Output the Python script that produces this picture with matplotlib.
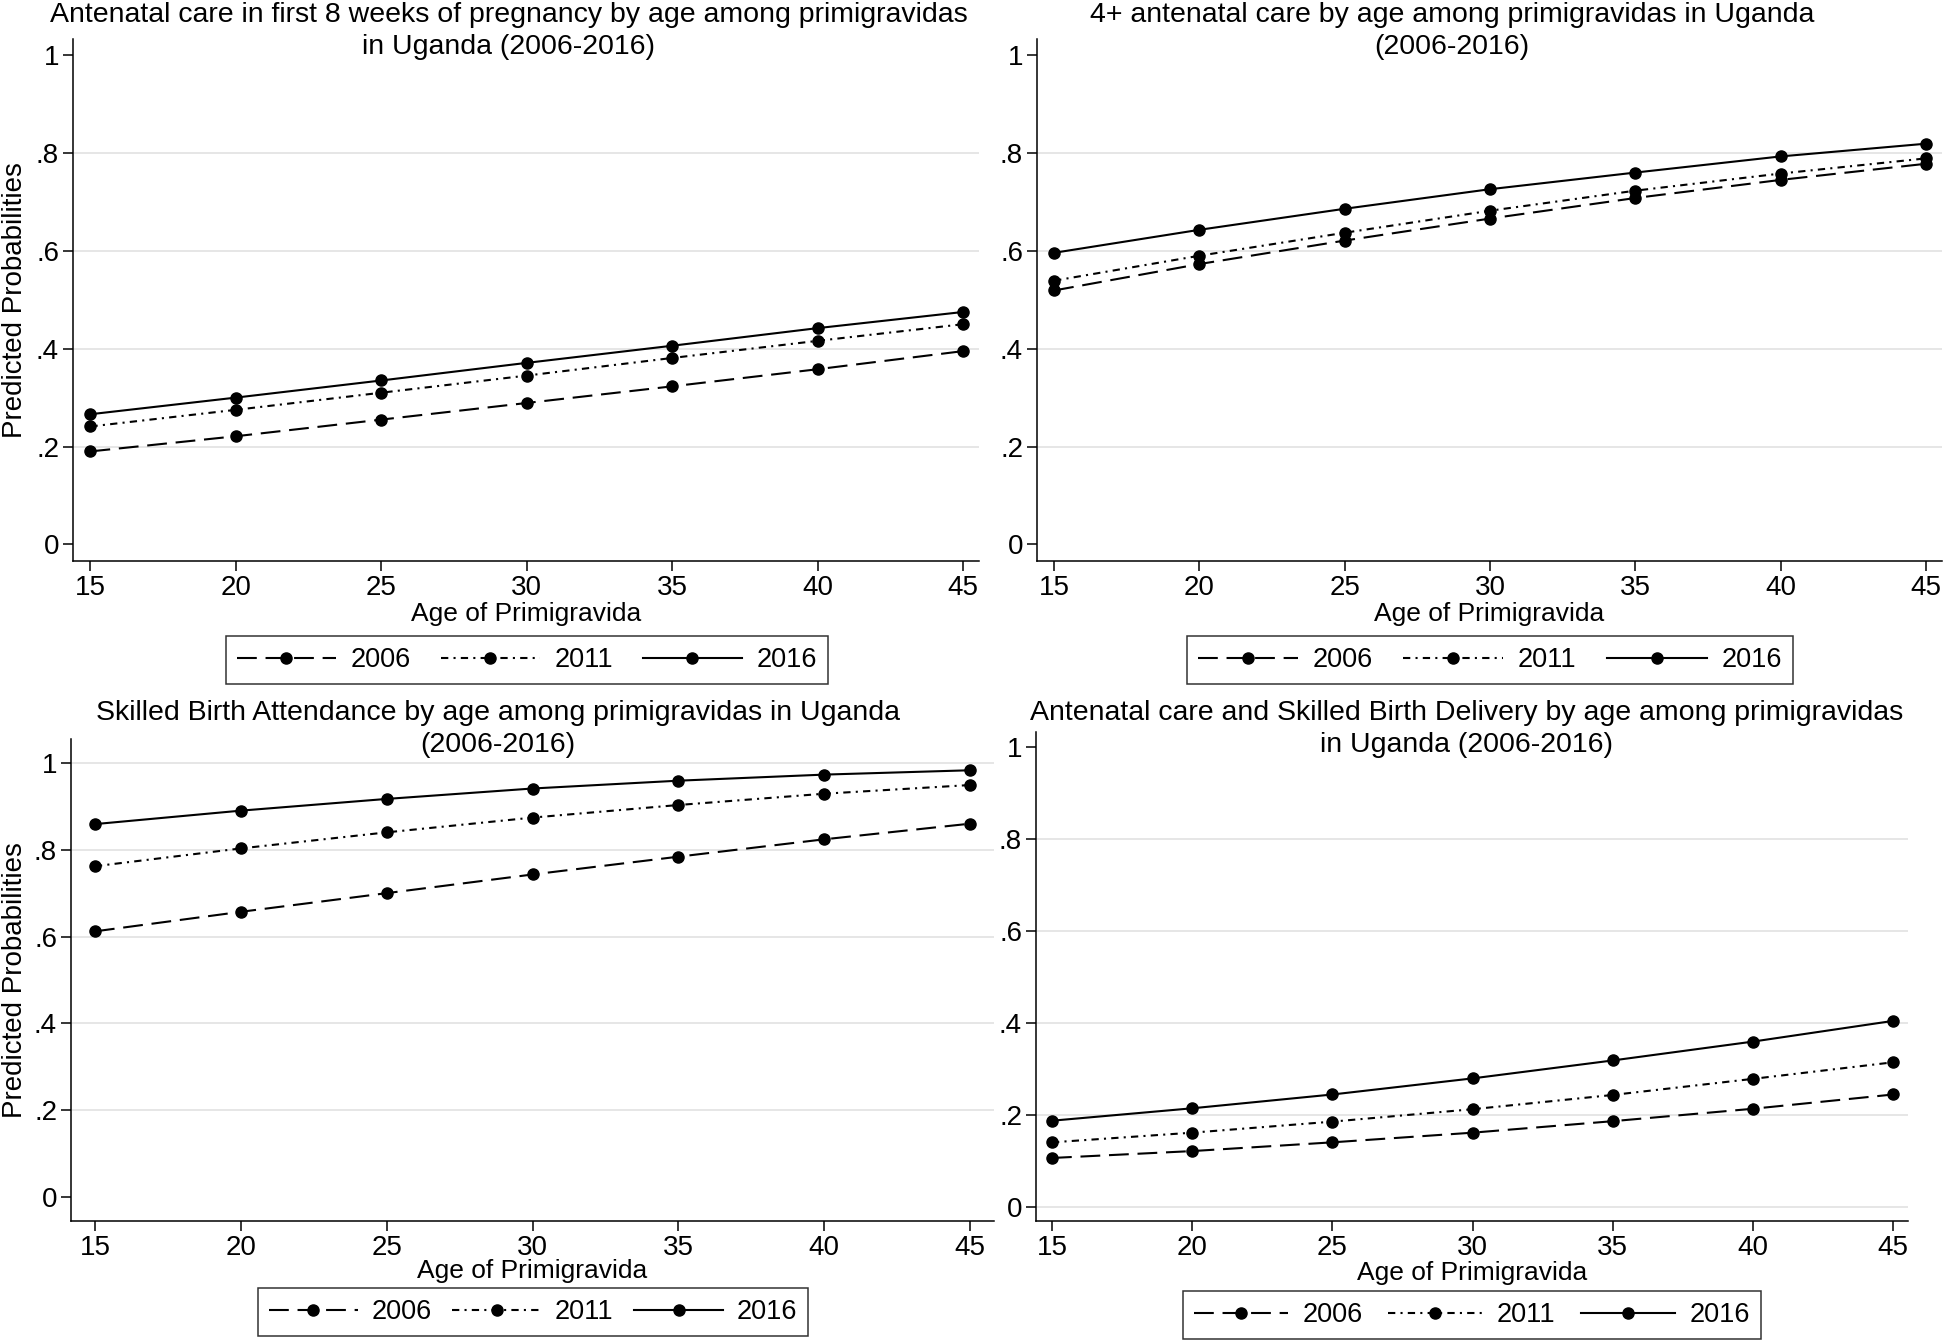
import matplotlib
matplotlib.use("Agg")
import matplotlib.pyplot as plt

plt.rcParams['font.family'] = ['Liberation Sans', 'DejaVu Sans']

W, H = 1946, 1342

# ---- data ----
ages = [15, 20, 25, 30, 35, 40, 45]
years = ["2006", "2011", "2016"]

# antenatal care in first 8 weeks
anc8_2006 = [0.190, 0.221, 0.255, 0.289, 0.323, 0.358, 0.395]
anc8_2011 = [0.241, 0.275, 0.310, 0.345, 0.381, 0.416, 0.450]
anc8_2016 = [0.266, 0.300, 0.335, 0.371, 0.406, 0.442, 0.475]

# 4+ antenatal visits
anc4_2006 = [0.519, 0.573, 0.621, 0.666, 0.708, 0.745, 0.778]
anc4_2011 = [0.539, 0.590, 0.637, 0.682, 0.723, 0.758, 0.789]
anc4_2016 = [0.596, 0.643, 0.686, 0.726, 0.760, 0.793, 0.819]

# skilled birth attendance
sba_2006 = [0.612, 0.657, 0.700, 0.743, 0.784, 0.824, 0.860]
sba_2011 = [0.762, 0.803, 0.840, 0.874, 0.903, 0.929, 0.949]
sba_2016 = [0.859, 0.890, 0.917, 0.941, 0.959, 0.973, 0.983]

# antenatal care + skilled delivery
both_2006 = [0.107, 0.122, 0.141, 0.162, 0.187, 0.214, 0.245]
both_2011 = [0.141, 0.162, 0.186, 0.213, 0.244, 0.279, 0.315]
both_2016 = [0.188, 0.215, 0.245, 0.280, 0.319, 0.360, 0.405]

titles = [
    "Antenatal care in first 8 weeks of pregnancy by age among primigravidas\nin Uganda (2006-2016)",
    "4+ antenatal care by age among primigravidas in Uganda\n(2006-2016)",
    "Skilled Birth Attendance by age among primigravidas in Uganda\n(2006-2016)",
    "Antenatal care and Skilled Birth Delivery by age among primigravidas\nin Uganda (2006-2016)",
]
series = [
    [anc8_2006, anc8_2011, anc8_2016],
    [anc4_2006, anc4_2011, anc4_2016],
    [sba_2006, sba_2011, sba_2016],
    [both_2006, both_2011, both_2016],
]
yticks = [0, 0.2, 0.4, 0.6, 0.8, 1.0]
ytick_labels = ["0", ".2", ".4", ".6", ".8", "1"]

# ---- layout (pixel boxes: left, top, right, bottom) ----
boxes = [(73, 39, 979, 561), (1037, 39, 1942, 561),
         (71, 739, 994, 1221), (1036, 732, 1908, 1221)]
xlims = [(14.40, 45.55), (14.41, 45.55), (14.18, 45.82), (14.43, 45.53)]
ylims = [(-0.034, 1.033), (-0.034, 1.033), (-0.055, 1.055), (-0.030, 1.033)]
grids = [[0.2, 0.4, 0.6, 0.8], [0.2, 0.4, 0.6, 0.8],
         [0.2, 0.4, 0.6, 0.8, 1.0], [0, 0.2, 0.4, 0.6, 0.8]]
title_pos = [(509, 2), (1452, 2), (498, 700), (1467, 700)]
legend_pos = [(527, 660), (1490, 660), (533, 1312), (1472, 1315)]
# handlelength, handletextpad, columnspacing for each legend
legend_sp = [(3.65, 0.55, 1.1), (3.7, 0.55, 1.1), (3.3, 0.5, 0.75), (3.45, 0.55, 0.95)]
xlabel_y = [614, 614, 1271, 1273]

styles = [
    dict(linestyle=(0, (9.5, 4.2))),
    dict(linestyle=(0, (3.5, 2.5, 1, 2.5))),
    dict(linestyle='-'),
]

fig = plt.figure(figsize=(W / 100, H / 100), dpi=100)

for i in range(4):
    l, t, r, b = boxes[i]
    ax = fig.add_axes([l / W, 1 - b / H, (r - l) / W, (b - t) / H])
    for y in grids[i]:
        ax.axhline(y, color='#e4e4e4', lw=1.3, zorder=0)
    for k, vals in enumerate(series[i]):
        ax.plot(ages, vals, color='black', lw=1.5, marker='o', markersize=8,
                label=years[k], **styles[k])
    ax.set_xlim(*xlims[i])
    ax.set_ylim(*ylims[i])
    ax.set_xticks(ages)
    ax.set_yticks(yticks)
    ax.set_yticklabels(ytick_labels)
    ax.tick_params(labelsize=20, length=7, width=1.1, pad=3)
    for s in ['top', 'right']:
        ax.spines[s].set_visible(False)
    for s in ['left', 'bottom']:
        ax.spines[s].set_linewidth(1.1)
    if i % 2 == 0:
        fig.text(15 / W, 1 - (t + b) / 2 / H, "Predicted Probabilities",
                 rotation=90, ha='center', va='center', fontsize=20)
    fig.text((l + r) / 2 / W, 1 - xlabel_y[i] / H, "Age of Primigravida",
             ha='center', va='center', fontsize=19)
    tx, ty = title_pos[i]
    fig.text(tx / W, 1 - ty / H, titles[i], ha='center', va='top',
             fontsize=20.5, linespacing=1.3)
    hl, tp, cs = legend_sp[i]
    leg = ax.legend(loc='center', bbox_to_anchor=(legend_pos[i][0] / W, 1 - legend_pos[i][1] / H),
                    bbox_transform=fig.transFigure, ncol=3, fontsize=19.5,
                    frameon=True, fancybox=False, edgecolor='black',
                    handlelength=hl, handletextpad=tp, columnspacing=cs,
                    numpoints=1, borderpad=0.4)
    leg.get_frame().set_linewidth(1.1)

fig.savefig("out.png", dpi=100, facecolor='white')
